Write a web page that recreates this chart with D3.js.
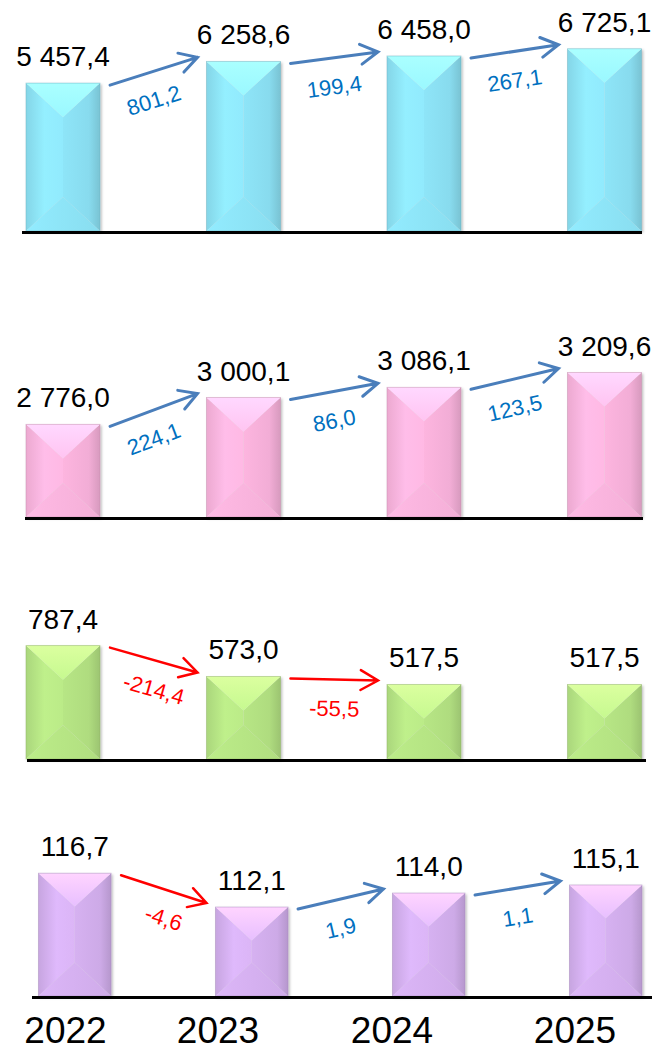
<!DOCTYPE html>
<html>
<head>
<meta charset="utf-8">
<script src="https://cdn.jsdelivr.net/npm/d3@7"></script>
<style>
  body { margin: 0; background: #fff; }
  svg { display: block; }
</style>
</head>
<body>
<div id="chart"></div>
<script>
// data
const years = ['2022', '2023', '2024', '2025']
const values1 = [5457.4, 6258.6, 6458.0, 6725.1]
const values2 = [2776.0, 3000.1, 3086.1, 3209.6]
const values3 = [787.4, 573.0, 517.5, 517.5]
const values4 = [116.7, 112.1, 114.0, 115.1]
const changes1 = [801.2, 199.4, 267.1]
const changes2 = [224.1, 86.0, 123.5]
const changes3 = [-214.4, -55.5]
const changes4 = [-4.6, 1.9, 1.1]
const axisMin = [0, 2000, 0, 100]
const axisMax = [7380, 3675, 1389, 127.2]

window.onload = function () {
  let width = 652
  let height = 1051
  let plotH = 200
  let baseY = [231, 517, 759, 996]          // 每个面板的底线
  let xRange = [[26, 641.5], [26, 641.5], [26, 641.5], [38.5, 642]]
  let lineX = [[22, 642], [25, 643], [27, 646], [32, 652]]
  let colors = ['#8ee5f8', '#fdb5df', '#b7e685', '#d6b1f1']
  let panels = [
    { values: values1, changes: changes1 },
    { values: values2, changes: changes2 },
    { values: values3, changes: changes3 },
    { values: values4, changes: changes4 }
  ]

  let loc = d3.formatLocale({ decimal: ',', thousands: ' ', grouping: [3], currency: ['', ''], minus: '-' })
  let fmt = loc.format(',.1f')

  let svg = d3.select('#chart').append('svg')
    .attr('width', width)
    .attr('height', height)

  let defs = svg.append('defs')
  defs.append('filter').attr('id', 'shadow')
    .attr('x', '-10%').attr('y', '-10%').attr('width', '130%').attr('height', '130%')
    .append('feDropShadow')
    .attr('dx', 1.5).attr('dy', 1.5).attr('stdDeviation', 1.2)
    .attr('flood-color', '#000').attr('flood-opacity', 0.25)

  colors.forEach(function (c, k) {
    let base = d3.color(c)
    let gl = defs.append('linearGradient').attr('id', 'left' + k)
      .attr('x1', 0).attr('x2', 1).attr('y1', 0).attr('y2', 0)
    gl.append('stop').attr('offset', 0).attr('stop-color', base.darker(0.2))
    gl.append('stop').attr('offset', 0.5).attr('stop-color', base.brighter(0.12))
    gl.append('stop').attr('offset', 1).attr('stop-color', base.brighter(0.06))
    let gr = defs.append('linearGradient').attr('id', 'right' + k)
      .attr('x1', 0).attr('x2', 1).attr('y1', 0).attr('y2', 0)
    gr.append('stop').attr('offset', 0).attr('stop-color', base.darker(0.0))
    gr.append('stop').attr('offset', 0.7).attr('stop-color', base.darker(0.12))
    gr.append('stop').attr('offset', 1).attr('stop-color', base.darker(0.45))
    let gt = defs.append('linearGradient').attr('id', 'top' + k)
      .attr('x1', 0).attr('x2', 0).attr('y1', 0).attr('y2', 1)
    gt.append('stop').attr('offset', 0).attr('stop-color', base.brighter(0.5))
    gt.append('stop').attr('offset', 1).attr('stop-color', base.brighter(0.22))
    let gb = defs.append('linearGradient').attr('id', 'bottom' + k)
      .attr('x1', 0).attr('x2', 1).attr('y1', 0).attr('y2', 0)
    gb.append('stop').attr('offset', 0).attr('stop-color', base.brighter(0.08))
    gb.append('stop').attr('offset', 1).attr('stop-color', base.darker(0.1))
  })

  panels.forEach(function (p, k) {
    let x = d3.scaleBand()
      .domain(years)
      .range(xRange[k])
      .paddingInner(0.59)
      .paddingOuter(0)
    let y = d3.scaleLinear()
      .domain([axisMin[k], axisMax[k]])
      .range([baseY[k], baseY[k] - plotH])
    let bw = x.bandwidth()
    let g = svg.append('g')

    let bars = g.selectAll('g.bar')
      .data(p.values)
      .enter()
      .append('g')
      .attr('class', 'bar')
      .attr('filter', 'url(#shadow)')

    bars.each(function (d, i) {
      let l = x(years[i])
      let r = l + bw
      let t = y(d)
      let b = y(axisMin[k])
      let cx = l + bw / 2
      let inset = Math.min(bw * 0.46, (b - t) / 2)
      let at = t + inset
      let ab = b - inset
      let sel = d3.select(this)
      let poly = function (pts, fill) {
        sel.append('path')
          .attr('d', 'M' + pts.map(function (q) { return q.join(',') }).join('L') + 'Z')
          .attr('fill', fill)
      }
      poly([[l, t], [cx, at], [cx, ab], [l, b]], 'url(#left' + k + ')')
      poly([[r, t], [cx, at], [cx, ab], [r, b]], 'url(#right' + k + ')')
      poly([[l, b], [cx, ab], [r, b]], 'url(#bottom' + k + ')')
      poly([[l, t], [r, t], [cx, at]], 'url(#top' + k + ')')
      sel.append('rect')
        .attr('x', l).attr('y', t)
        .attr('width', bw).attr('height', b - t)
        .attr('fill', 'none')
        .attr('stroke', d3.color(colors[k]).darker(0.7))
        .attr('stroke-width', 0.8)
        .attr('stroke-opacity', 0.6)
    })

    // 数值
    g.selectAll('text.val')
      .data(p.values)
      .enter()
      .append('text')
      .attr('class', 'val')
      .attr('x', function (d, i) { return x(years[i]) + bw / 2 })
      .attr('y', function (d) { return y(d) - 17 })
      .attr('text-anchor', 'middle')
      .attr('font-family', 'Liberation Sans, Arial, sans-serif')
      .attr('font-size', 28)
      .attr('fill', '#000')
      .text(function (d) { return fmt(d) })

    // 底线
    g.append('line')
      .attr('x1', lineX[k][0]).attr('x2', lineX[k][1])
      .attr('y1', baseY[k] + 1.5).attr('y2', baseY[k] + 1.5)
      .attr('stroke', '#000')
      .attr('stroke-width', 3)

    // 箭头
    p.changes.forEach(function (c, i) {
      let x0 = x(years[i]) + bw + 10
      let y0 = y(p.values[i]) + 2
      let x1 = x(years[i + 1]) - 9
      let y1 = y(p.values[i + 1]) - 4
      let ang = Math.atan2(y1 - y0, x1 - x0)
      let head = 20
      let spread = 0.52
      let up = c >= 0
      let col = up ? '#4a7ebb' : '#ff0000'
      let hx1 = x1 - head * Math.cos(ang - spread)
      let hy1 = y1 - head * Math.sin(ang - spread)
      let hx2 = x1 - head * Math.cos(ang + spread)
      let hy2 = y1 - head * Math.sin(ang + spread)
      g.append('path')
        .attr('d', 'M' + x0 + ',' + y0 + 'L' + x1 + ',' + y1 +
          'M' + hx1 + ',' + hy1 + 'L' + x1 + ',' + y1 + 'L' + hx2 + ',' + hy2)
        .attr('fill', 'none')
        .attr('stroke', col)
        .attr('stroke-width', up ? 3 : 2.5)
        .attr('stroke-linecap', 'round')
        .attr('stroke-linejoin', 'miter')
      let mx = (x0 + x1) / 2
      let my = (y0 + y1) / 2 + 29
      g.append('text')
        .attr('transform', 'translate(' + mx + ',' + my + ') rotate(' + (ang * 180 / Math.PI) + ')')
        .attr('text-anchor', 'middle')
        .attr('dy', '0.35em')
        .attr('font-family', 'Liberation Sans, Arial, sans-serif')
        .attr('font-size', 22)
        .attr('fill', up ? '#0070c0' : '#ff0000')
        .text(fmt(c))
    })
  })

  // 年份
  let yearX = d3.scaleOrdinal().domain(years).range([65.5, 218, 392, 575])
  svg.selectAll('text.year')
    .data(years)
    .enter()
    .append('text')
    .attr('class', 'year')
    .attr('x', function (d) { return yearX(d) })
    .attr('y', 1043)
    .attr('text-anchor', 'middle')
    .attr('font-family', 'Liberation Sans, Arial, sans-serif')
    .attr('font-size', 37)
    .attr('fill', '#000')
    .text(function (d) { return d })
}
</script>
</body>
</html>
